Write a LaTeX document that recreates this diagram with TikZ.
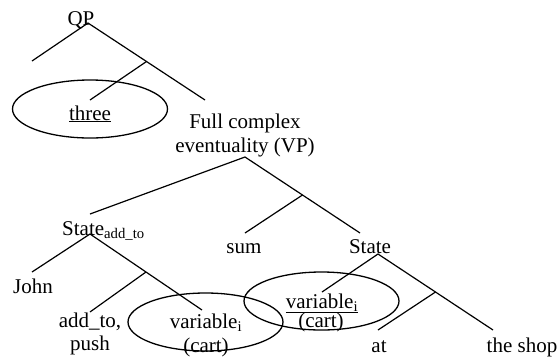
\documentclass[tikz,border=0pt]{standalone}
\usepackage{fontspec}
\setmainfont{Liberation Serif}
\usetikzlibrary{calc,shapes.geometric}
\begin{document}
\begin{tikzpicture}[x=1pt,y=-1pt,
  lbl/.style={inner sep=0pt, anchor=base, font=\fontsize{21}{24}\selectfont},
  br/.style={line width=1.2pt},
  ell/.style={draw, ellipse, line width=1.3pt, inner sep=0pt, minimum width=155pt, minimum height=58pt}]
\useasboundingbox (0,0) rectangle (559,357);
% QP
\node[lbl] (qp) at (81,25) {QP};
\coordinate (qpA) at (88,23);
\coordinate (qpL) at (32,61);
\coordinate (qpR) at (205,100);
\coordinate (qpJ) at ($(qpA)!0.5!(qpR)$);
\coordinate (qpJe) at (90,100);
\draw[br] (qpL) -- (qpA) -- (qpR);
\draw[br] (qpJ) -- (qpJe);
\node[lbl] (three) at (90,120) {\underline{three}};
\node[ell] (threeE) at (90,109) {};
% VP
\node[lbl] (vp1) at (245,128) {Full complex};
\node[lbl] (vp2) at (245,152) {eventuality (VP)};
\coordinate (vpA) at (245,157);
\coordinate (vpL) at (90,214);
\coordinate (vpR) at (360,233);
\coordinate (vpJ) at ($(vpA)!0.5!(vpR)$);
\coordinate (vpJe) at (245,233);
\draw[br] (vpL) -- (vpA) -- (vpR);
\draw[br] (vpJ) -- (vpJe);
% State add_to
\node[lbl, anchor=base west] (sa) at (62,235) {State\textsubscript{add\_to}};
\coordinate (saA) at (90,234);
\coordinate (saL) at (32,272);
\coordinate (saR) at (202,310);
\coordinate (saJ) at ($(saA)!0.5!(saR)$);
\coordinate (saJe) at (90,312);
\draw[br] (saL) -- (saA) -- (saR);
\draw[br] (saJ) -- (saJe);
\node[lbl] (john) at (33,293) {John};
\node[lbl] (add1) at (90,327) {add\_to,};
\node[lbl] (add2) at (90,350) {push};
\node[lbl] (var1) at (206,328) {variable\textsubscript{i}};
\node[lbl] (cart1) at (206,352) {(cart)};
\node[ell] (varE1) at (205.5,322) {};
% sum
\node[lbl] (sum) at (244,253) {sum};
% State right
\node[lbl] (st) at (370,253) {State};
\coordinate (stA) at (378,254);
\coordinate (stL) at (322,292);
\coordinate (stR) at (493,330);
\coordinate (stJ) at ($(stA)!0.5!(stR)$);
\coordinate (stJe) at (378,330);
\draw[br] (stL) -- (stA) -- (stR);
\draw[br] (stJ) -- (stJe);
\node[lbl] (var2) at (322,308) {\underline{variable\textsubscript{i}}};
\node[lbl] (cart2) at (321,327) {(cart)};
\node[ell] (varE2) at (321.5,301) {};
\node[lbl] (at) at (379,352) {at};
\node[lbl] (shop) at (522,352) {the shop};
\end{tikzpicture}
\end{document}
